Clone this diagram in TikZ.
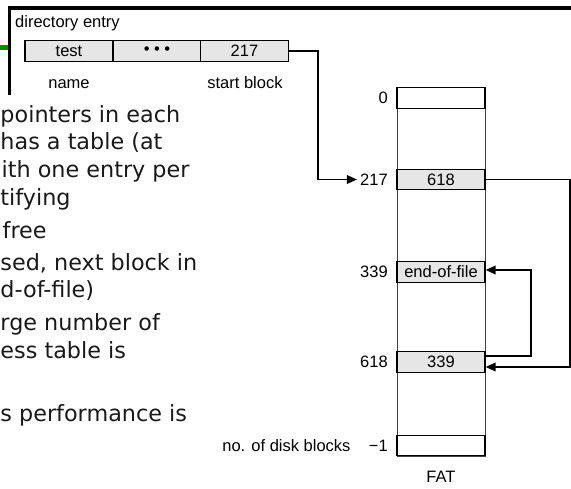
\documentclass[tikz,border=0pt]{standalone}
\usepackage{fontspec}
\setmainfont{Liberation Sans}
\newfontfamily\slidefont{DejaVu Sans}
\usetikzlibrary{arrows.meta,calc,positioning}
\definecolor{cellgray}{HTML}{E6E6E6}
\definecolor{framegreen}{HTML}{0A8A0A}
\begin{document}
\begin{tikzpicture}[x=1pt,y=-1pt,
  diag/.style={font=\fontsize{16.5}{18}\selectfont, inner sep=0pt},
  cell/.style={draw=black, line width=1.2pt, fill=cellgray, minimum width=88pt, minimum height=20.5pt, inner sep=0pt, diag},
  fatrow/.style={draw=black, line width=1.2pt, minimum width=88pt, minimum height=20.5pt, inner sep=0pt, diag},
  lab/.style={diag},
  slide/.style={font=\slidefont\fontsize{22.3}{27}\selectfont, text=black!90, inner sep=0pt},
  sw/.style={slide, anchor=base west},
  conn/.style={line width=1.8pt, black},
  tip/.style={-{Triangle[length=10pt,width=8.5pt]}},
  frame/.style={line width=3.8pt, black, line join=miter}
]
\useasboundingbox (0,0) rectangle (571,488);
\clip (0,0) rectangle (571,488);

% slide frame
\coordinate (fb) at (9.5,95);
\coordinate (fc) at (9.5,8);
\coordinate (fr) at (580,8);
\draw[frame] (fb) -- (fc) -- (fr);
\coordinate (g1) at (-2,47.5);
\coordinate (g2) at (8,47.5);
\draw[line width=5pt, framegreen] (g1) -- (g2);

% directory entry
\node[lab, anchor=base west] (dirlab) at (15,27.5) {directory entry};
\node[cell] (r1) at (69,51) {test};
\node[cell] (r2) at (157,51) {• • •};
\node[cell] (r3) at (244.5,51) {217};
\node[lab, anchor=base] (namelab) at (69,88) {name};
\node[lab, anchor=base] (startlab) at (245,88) {start block};

% FAT column
\node[draw=black!75, line width=0.9pt, minimum width=88pt, minimum height=368pt, inner sep=0pt] (fat) at (441,272) {};
\node[fatrow, fill=white] (row0) at (441,98) {};
\node[fatrow, fill=cellgray] (row217) at (441,179.5) {618};
\node[fatrow, fill=cellgray] (row339) at (441,272) {end-of-file};
\node[fatrow, fill=cellgray] (row618) at (441,362) {339};
\node[fatrow, fill=white] (rowN) at (441,445.5) {};

\node[lab, left=8.5pt of row0] (l0) {0};
\node[lab, left=8.5pt of row217] (l217) {217};
\node[lab, left=8.5pt of row339] (l339) {339};
\node[lab, left=8.5pt of row618] (l618) {618};
\node[lab, left=8.5pt of rowN] (lN) {−1};
\node[lab, left=18pt of lN] (ndb) {no. of disk blocks};
\node[lab] (fatlab) at (441,476.5) {FAT};

% connectors
\draw[conn, tip, shorten >=3pt] (r3.east) -- ++(29,0) |- (l217.west);
\draw[conn, tip] (row217.east) -- ++(84,0) |- ($(row618.east)+(0,5)$);
\draw[conn, tip] ($(row618.east)+(0,-6)$) -- ++(45,0) |- ($(row339.east)+(0,-2)$);

% slide text (cut by the left edge in the reference)
\node[sw] (t1) at (0.3,122) {pointers in each};
\node[sw] (t2) at (0.3,149) {has a table (at};
\node[sw] (t3) at (1.5,177) {ith one entry per};
\node[sw] (t4) at (0.3,205) {tifying};
\node[sw] (t5) at (2.5,238) {free};
\node[sw] (t6) at (0.3,270) {sed, next block in};
\node[sw] (t7) at (0.3,297) {d-of-file)};
\node[sw] (t8) at (0.3,330) {rge number of};
\node[sw] (t9) at (0.3,358) {ess table is};
\node[sw] (t10) at (0.3,421) {s performance is};
\end{tikzpicture}
\end{document}
